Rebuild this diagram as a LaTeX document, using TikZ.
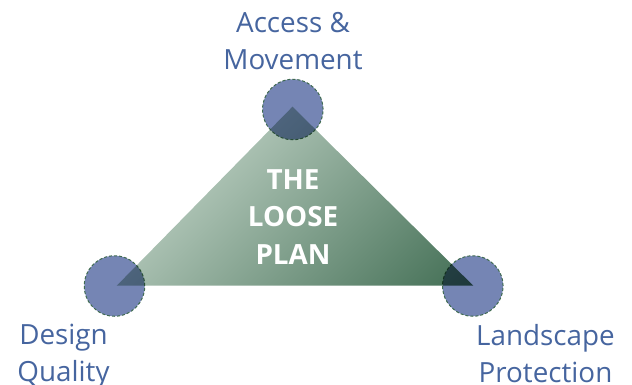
\documentclass[tikz,border=0pt]{standalone}
\usepackage{fontspec}
\setmainfont{Open Sans}
\definecolor{hubblue}{HTML}{7585B4}
\definecolor{hubedge}{HTML}{3F6B50}
\definecolor{labelblue}{HTML}{46659F}
\definecolor{triA}{HTML}{A8BFB0}
\definecolor{triB}{HTML}{426E54}
\pgfdeclarehorizontalshading{trigrad}{100bp}{color(0bp)=(triA); color(37.5bp)=(triA); color(62.5bp)=(triB); color(100bp)=(triB)}
\tikzset{
  x=1pt,y=-1pt,
  hub/.style={circle,minimum size=60.5pt,inner sep=0pt,fill=hubblue,draw=hubedge,densely dashed,line width=1pt},
  lab/.style={text=labelblue,font=\fontsize{27.8}{37}\selectfont,align=center,inner sep=0pt},
  core/.style={text=white,font=\fontsize{27.8}{37.5}\selectfont\bfseries,align=center,inner sep=0pt}
}
\begin{document}
\begin{tikzpicture}
\useasboundingbox (0,0) rectangle (632,385);
\node[hub] (top) at (292.8,109.5) {};
\node[hub] (left) at (114.5,286) {};
\node[hub] (right) at (472.8,286) {};
\coordinate (apexT) at (292.5,106.7);
\coordinate (apexL) at (116.7,285.7);
\coordinate (apexR) at (473.3,285.7);
\begin{scope}[blend mode=multiply]
\clip (apexT) -- (apexL) -- (apexR) -- cycle;
\shade[shading=trigrad,shading angle=-45] (36.5,36.5) rectangle (542.5,542.5);
\end{scope}
\node[core] (plan) at (293,217) {THE\\LOOSE\\PLAN};
\node[lab] (tlab) at (293,41) {Access \&\\Movement};
\node[lab] (llab) at (63.5,356) {Design\\Quality};
\node[lab] (rlab) at (545.5,353.5) {Landscape\\Protection};
\end{tikzpicture}
\end{document}
